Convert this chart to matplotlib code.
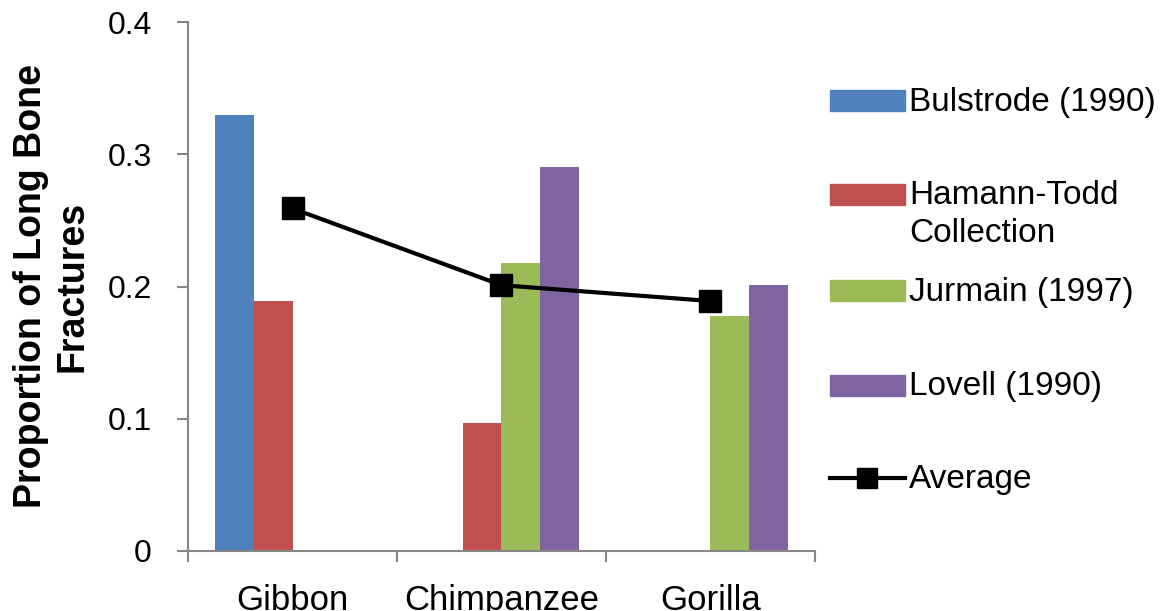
import numpy as np
import matplotlib
matplotlib.use("Agg")
import matplotlib.pyplot as plt
from matplotlib.patches import Rectangle
from matplotlib.lines import Line2D

plt.rcParams['font.family'] = ['Liberation Sans', 'DejaVu Sans']

species = ["Gibbon", "Chimpanzee", "Gorilla"]
bulstrode = [0.33, np.nan, np.nan]
hamann_todd = [0.189, 0.097, np.nan]
jurmain = [np.nan, 0.218, 0.178]
lovell = [np.nan, 0.29, 0.201]
average = [0.259, 0.201, 0.189]

series = [
    ("Bulstrode (1990)", bulstrode, "#4F81BD"),
    ("Hamann-Todd\nCollection", hamann_todd, "#C0504D"),
    ("Jurmain (1997)", jurmain, "#9BBB59"),
    ("Lovell (1990)", lovell, "#8064A2"),
]

fig = plt.figure(figsize=(11.65, 6.11), dpi=100)
ax = fig.add_axes([188 / 1165, 1 - 551 / 611, 627 / 1165, 529 / 611])

x = np.arange(len(species))
w = 0.185
for i, (name, vals, col) in enumerate(series):
    ax.bar(x + (i - 1.5) * w, vals, width=w, color=col, zorder=2)

ax.plot(x, average, color="black", lw=3, marker="s", markersize=16, zorder=3)

ax.set_xlim(-0.5, 2.5)
ax.set_ylim(0, 0.4)
ax.set_yticks([0, 0.1, 0.2, 0.3, 0.4])
ax.set_yticklabels(["0", "0.1", "0.2", "0.3", "0.4"])
ax.set_xticks([-0.5, 0.5, 1.5, 2.5])
ax.set_xticklabels([])
ax.set_xticks(x, minor=True)
ax.set_xticklabels(species, minor=True)

gray = "#868686"
for s in ["top", "right"]:
    ax.spines[s].set_visible(False)
for s in ["left", "bottom"]:
    ax.spines[s].set_color(gray)
    ax.spines[s].set_linewidth(1.5)
ax.tick_params(axis="both", which="major", color=gray, width=1.5, length=8,
               direction="out", labelsize=23, pad=18)
ax.tick_params(axis="x", which="minor", length=0, labelsize=25, pad=24)

ax.set_ylabel("Proportion of Long Bone\nFractures", fontsize=27,
              fontweight="bold", linespacing=1.2)
ax.yaxis.set_label_coords(-0.155, 0.5)

# legend drawn in figure pixels
H = 611
def fy(py):
    return 1 - py / H

lx0, lw_, lh = 830 / 1165, 75 / 1165, 21 / H
tx = 909 / 1165
rows = [101, 194.5, 290.7, 385]
for (name, vals, col), py in zip(series, rows):
    fig.add_artist(Rectangle((lx0, fy(py) - lh / 2), lw_, lh,
                             transform=fig.transFigure, color=col))
    if "\n" in name:
        fig.text(tx, fy(242), name, fontsize=24, va="baseline", ha="left",
                 linespacing=1.3)
    else:
        fig.text(tx, fy(py + 10), name, fontsize=24, va="baseline", ha="left")
fig.add_artist(Line2D([lx0, lx0 + lw_], [fy(478), fy(478)], color="black",
                      lw=3, transform=fig.transFigure))
fig.add_artist(Line2D([lx0 + lw_ / 2], [fy(478)], color="black",
                      marker="s", markersize=15, transform=fig.transFigure))
fig.text(tx, fy(488), "Average", fontsize=24, va="baseline", ha="left")

fig.savefig("out.png", dpi=100)
